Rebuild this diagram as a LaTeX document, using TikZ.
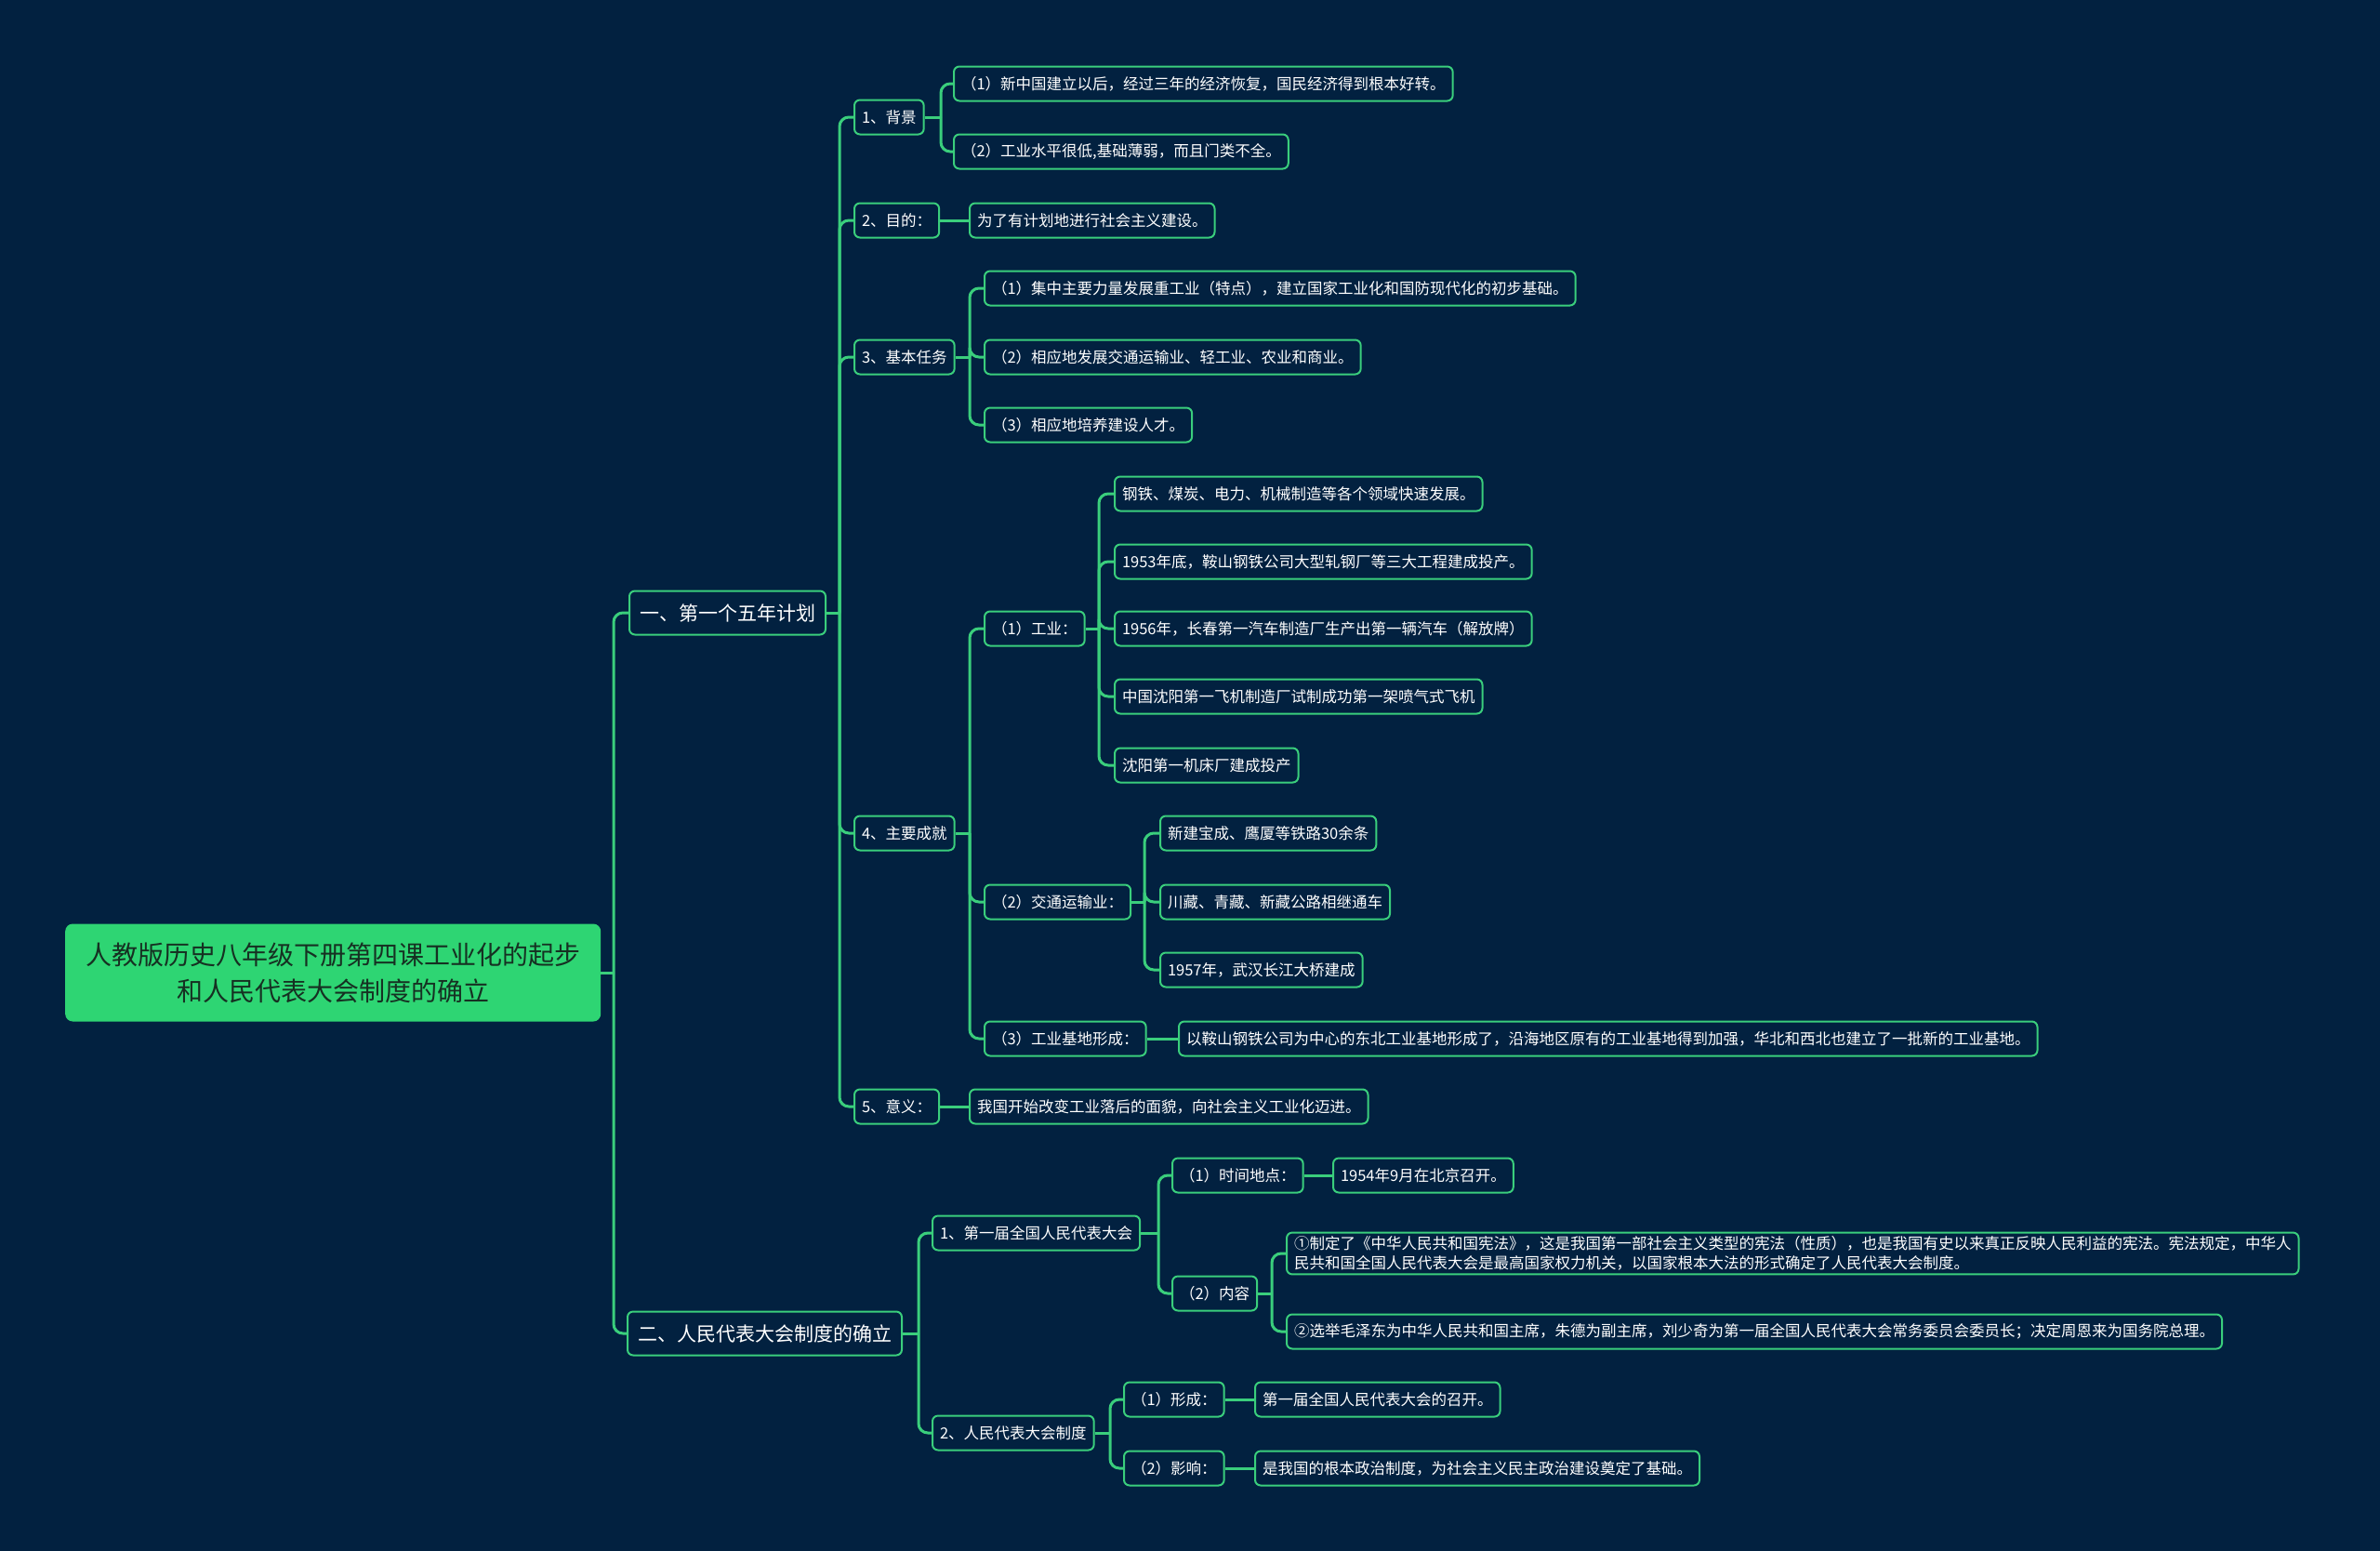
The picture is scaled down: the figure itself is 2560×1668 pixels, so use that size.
\documentclass[tikz,border=0pt]{standalone}
\usepackage{fontspec}
\setmainfont{Noto Sans CJK SC}
\usetikzlibrary{calc}
\definecolor{bg}{RGB}{2,33,64}
\definecolor{lg}{RGB}{58,206,124}
\definecolor{rootfill}{RGB}{46,213,115}
\definecolor{roottext}{RGB}{22,48,34}
\begin{document}
\begin{tikzpicture}[x=1pt,y=-1pt,
  box/.style={draw=lg, line width=2pt, rounded corners=6pt, fill=bg, text=white,
    font=\fontsize{16.5}{21}\selectfont, inner xsep=8pt, inner ysep=4pt, minimum height=37pt, anchor=west},
  midbox/.style={box, font=\fontsize{21}{25}\selectfont, minimum height=47pt, inner xsep=11pt},
  rootbox/.style={fill=rootfill, rounded corners=8pt, text=roottext, align=center,
    font=\fontsize{28}{39}\selectfont, minimum width=576pt, minimum height=105pt, anchor=west},
  conn/.style={draw=lg, line width=3pt, rounded corners=10pt}]
\fill[bg] (0,0) rectangle (2560,1668);
\useasboundingbox (0,0) rectangle (2560,1668);

% nodes
\node[rootbox] (root) at (70,1046) {人教版历史八年级下册第四课工业化的起步\\和人民代表大会制度的确立};
\node[midbox] (A) at (676,659) {一、第一个五年计划};
\node[midbox] (B) at (674,1434) {二、人民代表大会制度的确立};

\node[box] (A1) at (918,126) {1、背景};
\node[box] (A2) at (918,237) {2、目的：};
\node[box] (A3) at (918,384) {3、基本任务};
\node[box] (A4) at (918,896) {4、主要成就};
\node[box] (A5) at (918,1190) {5、意义：};

\node[box] (A1a) at (1025,90) {（1）新中国建立以后，经过三年的经济恢复，国民经济得到根本好转。};
\node[box] (A1b) at (1025,163) {（2）工业水平很低,基础薄弱，而且门类不全。};
\node[box] (A2a) at (1042,237) {为了有计划地进行社会主义建设。};
\node[box] (A3a) at (1058,310) {（1）集中主要力量发展重工业（特点），建立国家工业化和国防现代化的初步基础。};
\node[box] (A3b) at (1058,384) {（2）相应地发展交通运输业、轻工业、农业和商业。};
\node[box] (A3c) at (1058,457) {（3）相应地培养建设人才。};

\node[box] (A4a) at (1058,676) {（1）工业：};
\node[box] (A4b) at (1058,970) {（2）交通运输业：};
\node[box] (A4c) at (1058,1117) {（3）工业基地形成：};

\node[box] (A4a1) at (1198,531) {钢铁、煤炭、电力、机械制造等各个领域快速发展。};
\node[box] (A4a2) at (1198,604) {1953年底，鞍山钢铁公司大型轧钢厂等三大工程建成投产。};
\node[box] (A4a3) at (1198,676) {1956年，长春第一汽车制造厂生产出第一辆汽车（解放牌）};
\node[box] (A4a4) at (1198,749) {中国沈阳第一飞机制造厂试制成功第一架喷气式飞机};
\node[box] (A4a5) at (1198,823) {沈阳第一机床厂建成投产};

\node[box] (A4b1) at (1247,896) {新建宝成、鹰厦等铁路30余条};
\node[box] (A4b2) at (1247,970) {川藏、青藏、新藏公路相继通车};
\node[box] (A4b3) at (1247,1043) {1957年，武汉长江大桥建成};

\node[box] (A4c1) at (1267,1117) {以鞍山钢铁公司为中心的东北工业基地形成了，沿海地区原有的工业基地得到加强，华北和西北也建立了一批新的工业基地。};
\node[box] (A5a) at (1042,1190) {我国开始改变工业落后的面貌，向社会主义工业化迈进。};

\node[box] (B1) at (1002,1326) {1、第一届全国人民代表大会};
\node[box] (B2) at (1002,1541) {2、人民代表大会制度};
\node[box] (B1a) at (1260,1264) {（1）时间地点：};
\node[box] (B1b) at (1260,1391) {（2）内容};
\node[box] (B1a1) at (1433,1264) {1954年9月在北京召开。};
\node[box, align=left] (B1b1) at (1383,1348) {①制定了《中华人民共和国宪法》，这是我国第一部社会主义类型的宪法（性质），也是我国有史以来真正反映人民利益的宪法。宪法规定，中华人\\民共和国全国人民代表大会是最高国家权力机关，以国家根本大法的形式确定了人民代表大会制度。};
\node[box] (B1b2) at (1383,1432) {②选举毛泽东为中华人民共和国主席，朱德为副主席，刘少奇为第一届全国人民代表大会常务委员会委员长；决定周恩来为国务院总理。};
\node[box] (B2a) at (1208,1505) {（1）形成：};
\node[box] (B2b) at (1208,1579) {（2）影响：};
\node[box] (B2a1) at (1349,1505) {第一届全国人民代表大会的召开。};
\node[box] (B2b1) at (1349,1579) {是我国的根本政治制度，为社会主义民主政治建设奠定了基础。};

% junctions
\coordinate (jR) at (660,1046);
\coordinate (jA) at (903,659);
\coordinate (jB) at (988,1434);
\coordinate (jA1) at (1012,126);
\coordinate (jA3) at (1043,384);
\coordinate (jA4) at (1043,896);
\coordinate (jA4a) at (1182,676);
\coordinate (jA4b) at (1231,970);
\coordinate (jB1) at (1246,1326);
\coordinate (jB1b) at (1368,1391);
\coordinate (jB2) at (1194,1541);

% connectors
\draw[conn] (root.east) -- (jR);
\draw[conn] (jR) |- (A.west);
\draw[conn] (jR) |- (B.west);

\draw[conn] (A.east) -- (jA);
\foreach \c in {A1,A2,A3,A4,A5} \draw[conn] (jA) |- (\c.west);

\draw[conn] (A1.east) -- (jA1);
\foreach \c in {A1a,A1b} \draw[conn] (jA1) |- (\c.west);
\draw[conn] (A2.east) -- (A2a.west);
\draw[conn] (A3.east) -- (jA3);
\foreach \c in {A3a,A3b,A3c} \draw[conn] (jA3) |- (\c.west);
\draw[conn] (A4.east) -- (jA4);
\foreach \c in {A4a,A4b,A4c} \draw[conn] (jA4) |- (\c.west);
\draw[conn] (A4a.east) -- (jA4a);
\foreach \c in {A4a1,A4a2,A4a3,A4a4,A4a5} \draw[conn] (jA4a) |- (\c.west);
\draw[conn] (A4b.east) -- (jA4b);
\foreach \c in {A4b1,A4b2,A4b3} \draw[conn] (jA4b) |- (\c.west);
\draw[conn] (A4c.east) -- (A4c1.west);
\draw[conn] (A5.east) -- (A5a.west);

\draw[conn] (B.east) -- (jB);
\foreach \c in {B1,B2} \draw[conn] (jB) |- (\c.west);
\draw[conn] (B1.east) -- (jB1);
\foreach \c in {B1a,B1b} \draw[conn] (jB1) |- (\c.west);
\draw[conn] (B1a.east) -- (B1a1.west);
\draw[conn] (B1b.east) -- (jB1b);
\foreach \c in {B1b1,B1b2} \draw[conn] (jB1b) |- (\c.west);
\draw[conn] (B2.east) -- (jB2);
\foreach \c in {B2a,B2b} \draw[conn] (jB2) |- (\c.west);
\draw[conn] (B2a.east) -- (B2a1.west);
\draw[conn] (B2b.east) -- (B2b1.west);
\end{tikzpicture}
\end{document}
